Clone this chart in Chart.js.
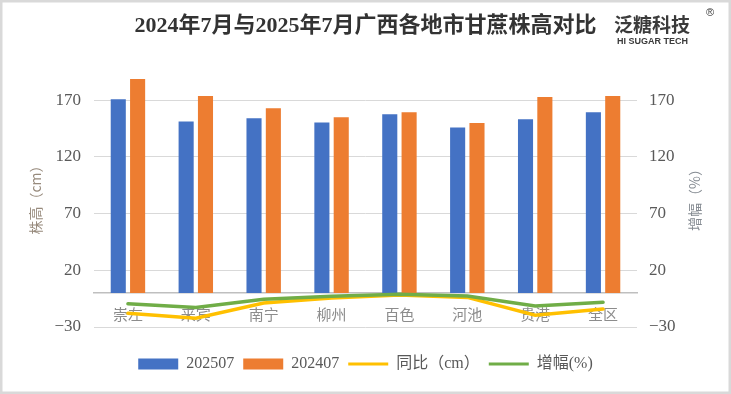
<!DOCTYPE html>
<html>
<head>
<meta charset="utf-8">
<script src="https://cdn.jsdelivr.net/npm/chart.js@4/dist/chart.umd.min.js"></script>
<style>
  html, body { margin: 0; padding: 0; background: #ffffff; }
  #wrap { width: 731px; height: 394px; position: relative; }
</style>
</head>
<body>
<div id="wrap"><canvas id="c" width="731" height="394"></canvas></div>
<script>
// ---- data ----
const categories = ['崇左', '来宾', '南宁', '柳州', '百色', '河池', '贵港', '全区'];
const height202507 = [170.6, 151.2, 153.9, 150.3, 157.5, 145.8, 153.0, 159.3];
const height202407 = [188.5, 173.5, 162.8, 154.8, 159.3, 149.7, 172.7, 173.5];
const yoyCm = [-17.9, -22.3, -8.9, -4.5, -1.8, -3.9, -19.7, -14.2];
const growthPct = [-9.5, -12.9, -5.5, -2.9, -1.1, -2.6, -11.4, -8.2];
const yTicks = [-30, 20, 70, 120, 170];
const seriesNames = ['202507', '202407', '同比（cm）', '增幅(%)'];
const titleText = '2024年7月与2025年7月广西各地市甘蔗株高对比';
const leftAxisTitle = '株高（cm）';
const rightAxisTitle = '增幅（%）';

const SERIF = "'Liberation Serif', 'Noto Sans CJK SC', serif";
const CJK = "'Noto Sans CJK SC', sans-serif";

const frame = {
  id: 'frame',
  beforeDraw(chart) {
    const ctx = chart.ctx;
    ctx.save();
    ctx.fillStyle = '#ffffff';
    ctx.fillRect(0, 0, chart.width, chart.height);
    ctx.restore();
  },
  afterDraw(chart) {
    const ctx = chart.ctx;
    const ca = chart.chartArea;
    ctx.save();
    ctx.strokeStyle = '#d9d9d9';
    ctx.lineWidth = 2.5;
    ctx.strokeRect(1.25, 1.25, chart.width - 2.5, chart.height - 2.5);
    // axis titles (both read bottom-to-top)
    ctx.font = "14px " + CJK;
    ctx.textAlign = 'center';
    ctx.textBaseline = 'middle';
    const cy = (ca.top + ca.bottom) / 2;
    ctx.save();
    ctx.fillStyle = '#978a7c';
    ctx.translate(36, cy);
    ctx.rotate(-Math.PI / 2);
    ctx.fillText(leftAxisTitle, 0, 0);
    ctx.restore();
    ctx.save();
    ctx.fillStyle = '#858b92';
    ctx.translate(695, cy);
    ctx.rotate(-Math.PI / 2);
    ctx.fillText(rightAxisTitle, 0, 0);
    ctx.restore();
    // logo
    ctx.fillStyle = '#3a3a3a';
    ctx.textAlign = 'left';
    ctx.font = "bold 19px " + CJK;
    ctx.fillText('泛糖科技', 614, 25);
    ctx.font = "bold 9px 'Liberation Sans', Arial, sans-serif";
    ctx.fillText('HI SUGAR TECH', 617, 42);
    ctx.font = "11px 'Liberation Sans', Arial, sans-serif";
    ctx.fillText('®', 706, 13);
    ctx.restore();
  }
};

const tickFmt = v => String(v).replace('-', '−');

new Chart(document.getElementById('c'), {
  type: 'bar',
  data: {
    labels: categories,
    datasets: [
      { label: seriesNames[0], data: height202507, backgroundColor: '#4472C4', yAxisID: 'y', xAxisID: 'x',
        barPercentage: 0.78, categoryPercentage: 0.57 },
      { label: seriesNames[1], data: height202407, backgroundColor: '#ED7D31', yAxisID: 'y', xAxisID: 'x',
        barPercentage: 0.78, categoryPercentage: 0.57 },
      { type: 'line', label: seriesNames[2], data: yoyCm, borderColor: '#FFC000', backgroundColor: '#FFC000',
        borderWidth: 3.5, pointRadius: 0, tension: 0, yAxisID: 'y', xAxisID: 'x', borderCapStyle: 'round', order: 0 },
      { type: 'line', label: seriesNames[3], data: growthPct, borderColor: '#70AD47', backgroundColor: '#70AD47',
        borderWidth: 3.5, pointRadius: 0, tension: 0, yAxisID: 'y1', xAxisID: 'x', borderCapStyle: 'round', order: -1 }
    ]
  },
  options: {
    responsive: false,
    animation: false,
    devicePixelRatio: 1,
    layout: { padding: { left: 0, right: 0, top: 0, bottom: 12 } },
    plugins: {
      tooltip: { enabled: false },
      title: {
        display: true,
        text: titleText,
        color: '#333333',
        font: { family: SERIF, size: 22, weight: 'bold' },
        padding: { top: 13.4, bottom: 26.2 }
      },
      legend: {
        position: 'bottom',
        labels: {
          color: '#595959',
          font: { family: SERIF, size: 16 },
          usePointStyle: true,
          pointStyleWidth: 40,
          boxHeight: 11,
          padding: 9,
          sort: (a, b) => a.datasetIndex - b.datasetIndex,
          generateLabels: chart => Chart.defaults.plugins.legend.labels.generateLabels(chart).map(l => {
            const ds = chart.data.datasets[l.datasetIndex];
            const isLine = ds.type === 'line';
            return Object.assign({}, l, {
              pointStyle: isLine ? 'line' : 'rect',
              lineWidth: isLine ? 3 : 0,
              strokeStyle: ds.borderColor || ds.backgroundColor,
              fillStyle: ds.backgroundColor
            });
          })
        }
      }
    },
    scales: {
      x: {
        type: 'category',
        position: { y: 0 },
        offset: true,
        grid: { display: false, drawTicks: false },
        border: { display: true, color: '#bfbfbf', width: 1.5 },
        ticks: { color: '#8c8c8c', font: { family: CJK, size: 15 }, padding: 12, maxRotation: 0, autoSkip: false }
      },
      xs: {
        type: 'category',
        position: 'bottom',
        display: true,
        grid: { display: false, drawTicks: false },
        border: { display: false },
        ticks: { display: false },
        afterFit(s) { s.height = 20; }
      },
      y: {
        position: 'left',
        min: -30,
        max: 200,
        afterBuildTicks(s) { s.ticks = yTicks.map(v => ({ value: v })); },
        grid: { color: '#d9d9d9', lineWidth: 1, drawTicks: false },
        border: { display: false },
        ticks: { color: '#595959', font: { family: SERIF, size: 17 }, padding: 13, callback: tickFmt },
        afterFit(s) { s.width = 94; }
      },
      y1: {
        position: 'right',
        min: -30,
        max: 200,
        afterBuildTicks(s) { s.ticks = yTicks.map(v => ({ value: v })); },
        grid: { display: false, drawTicks: false },
        border: { display: false },
        ticks: { color: '#595959', font: { family: SERIF, size: 17 }, padding: 12, callback: tickFmt },
        afterFit(s) { s.width = 94; }
      }
    }
  },
  plugins: [frame]
});
</script>
</body>
</html>
